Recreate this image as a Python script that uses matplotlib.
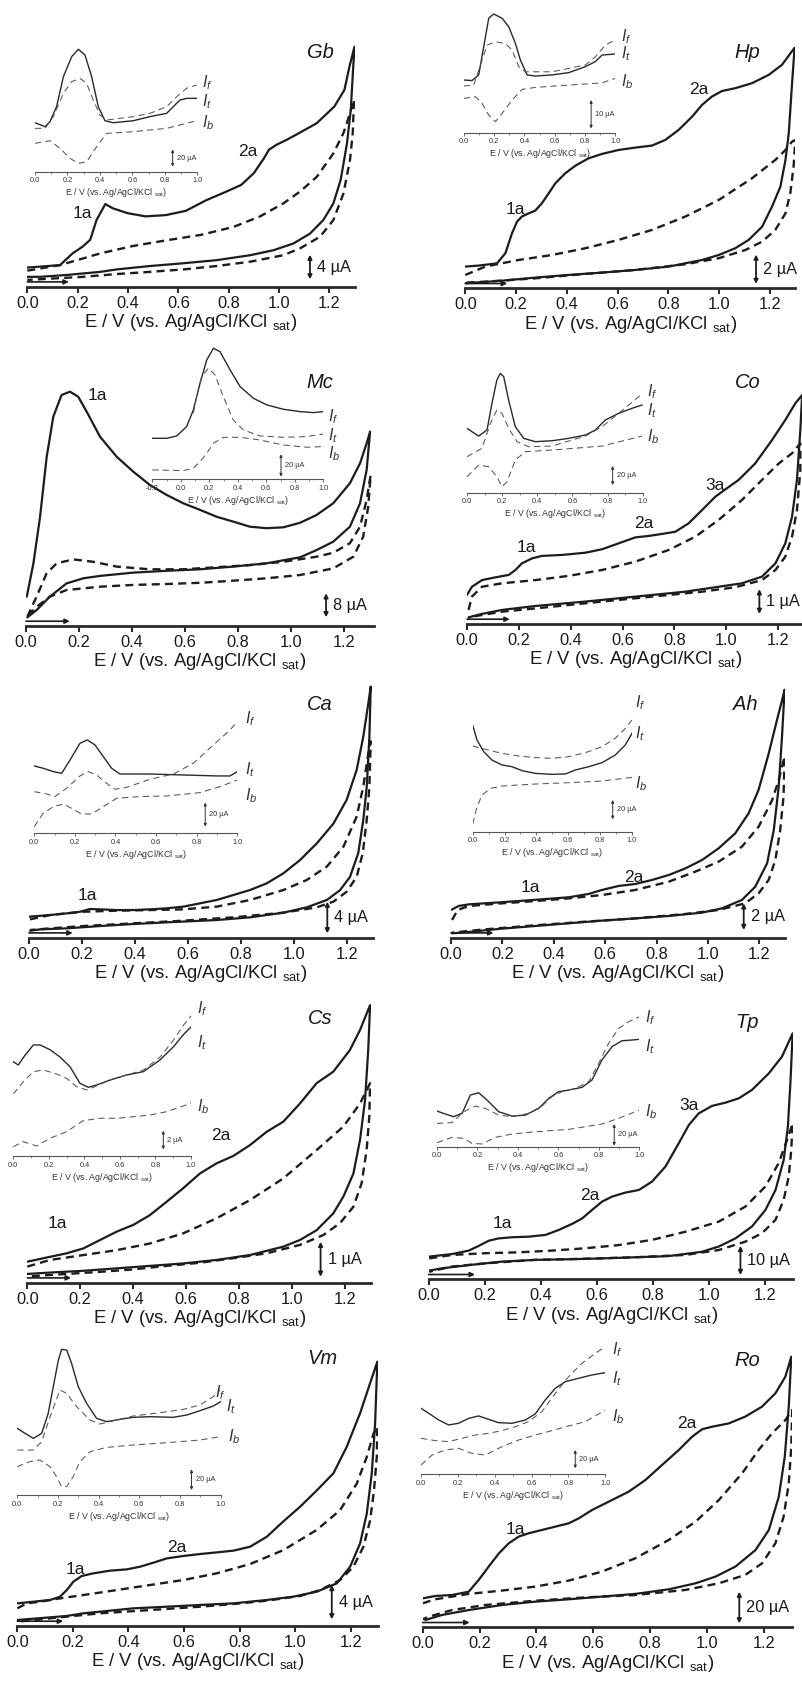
import matplotlib
matplotlib.use('Agg')
import matplotlib.pyplot as plt
from matplotlib.ticker import MultipleLocator, FormatStrFormatter
import numpy as np

plt.rcParams['font.family'] = ['Liberation Sans', 'DejaVu Sans']
plt.rcParams['mathtext.fontset'] = 'custom'
plt.rcParams['mathtext.rm'] = 'Liberation Sans'
plt.rcParams['mathtext.it'] = 'Liberation Sans:italic'
plt.rcParams['mathtext.bf'] = 'Liberation Sans:bold'

# ---------------- DATA (E in V, I in uA, offset arbitrary) ----------------
# Gb
gb_sf = [(0,3.1),(0.13,3.5),(0.18,5.4),(0.22,6.5),(0.25,7.6),(0.275,10.8),(0.31,13.4),(0.34,12.7),(0.4,11.9),(0.47,11.4),(0.55,11.6),(0.63,12.3),(0.71,14.0),(0.79,15.4),(0.85,16.5),(0.9,18.4),(0.94,20.8),(0.96,22.2),(0.99,23.0),(1.03,23.8),(1.08,24.9),(1.15,26.5),(1.22,29.2),(1.26,31.9),(1.28,35.7),(1.3,38.9)]
gb_sb = [(1.3,38.9),(1.295,35.7),(1.285,28.6),(1.27,23.2),(1.245,17.3),(1.216,13.5),(1.176,10.8),(1.123,8.6),(1.057,7.0),(0.977,5.9),(0.885,5.1),(0.752,4.3),(0.62,3.8),(0.487,3.35),(0.355,2.8),(0.289,2.4),(0.156,1.9),(0.05,1.6),(0,1.6)]
gb_df = [(0,2.6),(0.13,3.5),(0.29,5.4),(0.42,6.6),(0.55,7.5),(0.69,8.4),(0.82,9.7),(0.925,11.4),(1.017,13.5),(1.083,15.4),(1.15,17.8),(1.216,21.6),(1.256,24.9),(1.282,28.1),(1.298,30.3)]
gb_db = [(1.298,30.3),(1.293,24.9),(1.282,20.5),(1.256,15.1),(1.216,10.8),(1.163,8.1),(1.083,6.2),(1.017,5.1),(0.885,4.05),(0.752,3.35),(0.62,2.8),(0.487,2.4),(0.355,2.05),(0.222,1.6),(0.09,1.3),(0,1.1)]
gb_it = [(0,56.5),(0.062,51.9),(0.092,57.7),(0.133,75),(0.175,109.6),(0.226,132.7),(0.267,141.2),(0.308,134.6),(0.349,109.6),(0.39,75),(0.431,58.8),(0.483,56.5),(0.606,58.8),(0.708,63.5),(0.811,67.3),(0.852,75),(0.893,82.7),(0.934,84.6),(0.996,84.6)]
gb_if = [(0,50),(0.062,50),(0.113,63.5),(0.175,90.4),(0.226,103.8),(0.277,107.7),(0.318,101.9),(0.359,82.7),(0.4,65.4),(0.441,59.6),(0.606,63.5),(0.708,67.3),(0.811,75),(0.873,86.5),(0.934,96.2),(0.996,100)]
gb_ib = [(0,32.7),(0.092,35.8),(0.154,26.9),(0.216,15.4),(0.267,9.6),(0.318,11.5),(0.38,28.8),(0.441,44.2),(0.606,46.2),(0.811,50),(0.996,58.8)]

# Hp
hp_sf = [(0,1.48),(0.053,1.55),(0.125,1.7),(0.158,2.39),(0.184,3.75),(0.204,4.55),(0.223,4.89),(0.25,5.11),(0.276,5.3),(0.302,5.8),(0.329,6.48),(0.355,7.16),(0.394,7.84),(0.434,8.36),(0.486,8.86),(0.539,9.16),(0.604,9.43),(0.67,9.59),(0.736,9.73),(0.788,10.11),(0.841,10.8),(0.894,11.7),(0.933,12.5),(0.972,13.07),(1.012,13.45),(1.064,13.64),(1.13,13.98),(1.196,14.55),(1.248,15.23),(1.298,16.4)]
hp_sb = [(1.298,16.4),(1.288,13.98),(1.275,10.57),(1.262,8.75),(1.242,6.93),(1.209,5.57),(1.17,4.2),(1.117,3.3),(1.064,2.73),(0.999,2.27),(0.933,1.93),(0.802,1.48),(0.67,1.25),(0.539,1.07),(0.407,0.91),(0.276,0.73),(0.145,0.52),(0.039,0.39),(0,0.34)]
hp_df = [(0,0.91),(0.079,1.48),(0.21,1.93),(0.342,2.27),(0.473,2.73),(0.604,3.3),(0.736,3.98),(0.867,4.89),(0.999,6.02),(1.13,7.5),(1.222,8.75),(1.262,9.43),(1.288,10.0),(1.301,10.11)]
hp_db = [(1.301,10.11),(1.294,8.3),(1.281,6.48),(1.262,5.11),(1.222,3.98),(1.17,3.18),(1.104,2.61),(0.999,2.05),(0.867,1.64),(0.67,1.25),(0.473,0.98),(0.276,0.68),(0.079,0.45),(0,0.39)]
hp_it = [(0,18.6),(0.055,18.4),(0.099,20.4),(0.132,30.4),(0.165,40.4),(0.198,41.9),(0.253,40.4),(0.297,37.4),(0.341,31.5),(0.374,25.6),(0.418,20.4),(0.473,20.0),(0.582,20.4),(0.692,21.2),(0.802,23.3),(0.868,25.1),(0.912,27.4),(1.0,27.8)]
hp_if = [(0,16.5),(0.066,16.8),(0.121,25.6),(0.154,30.9),(0.209,32.1),(0.275,31.5),(0.319,29.2),(0.363,23.3),(0.407,21.5),(0.582,21.5),(0.802,23.9),(0.868,26.8),(0.934,30.9),(1.0,32.9)]
hp_ib = [(0,12.1),(0.077,12.7),(0.121,10.4),(0.165,6.2),(0.209,3.9),(0.253,6.8),(0.319,11.5),(0.385,15.3),(0.473,16.0),(0.692,16.8),(0.912,17.6),(1.0,19.2)]

# Mc
mc_sf = [(0.003,9.8),(0.028,20.9),(0.053,36.4),(0.078,56.4),(0.103,69.8),(0.134,77),(0.166,78.1),(0.197,76.4),(0.229,71.4),(0.279,63.1),(0.342,56.4),(0.405,51.4),(0.467,47),(0.53,43.7),(0.593,40.9),(0.656,38.7),(0.719,36.4),(0.781,34.8),(0.844,33.1),(0.907,32.6),(0.97,32.9),(1.033,34.4),(1.095,37),(1.158,40.9),(1.221,47.6),(1.259,54.2),(1.284,60.9),(1.297,64.8)]
mc_sb = [(1.297,64.8),(1.284,52),(1.259,40.9),(1.221,33.1),(1.158,28.1),(1.095,25.3),(1.033,22.9),(0.907,20.9),(0.781,19.8),(0.656,18.9),(0.53,18.4),(0.405,17.8),(0.279,16.7),(0.216,15.9),(0.153,14.2),(0.09,9.8),(0.04,5.3),(0.005,2.9)]
mc_df = [(0.005,3.1),(0.04,9.8),(0.078,17.6),(0.116,20.9),(0.178,22.2),(0.254,21.4),(0.342,19.8),(0.467,18.9),(0.593,18.9),(0.719,19.6),(0.844,20.3),(0.97,21.4),(1.095,23.1),(1.158,24.4),(1.221,27.6),(1.259,33.1),(1.284,42),(1.299,50.3)]
mc_db = [(1.299,50.3),(1.29,39.8),(1.271,29.8),(1.234,23.1),(1.158,19.2),(1.033,17),(0.907,15.9),(0.781,15.1),(0.656,14.4),(0.53,14),(0.405,13.7),(0.279,13.1),(0.153,12),(0.09,9.8),(0.04,6.4),(0.005,3.1)]
mc_it = [(-0.2,36.7),(-0.099,36.7),(-0.029,38.8),(0.041,47.2),(0.088,62.1),(0.135,86),(0.182,106.9),(0.229,117.3),(0.275,114.3),(0.346,97.9),(0.416,83),(0.51,72.5),(0.603,66.6),(0.72,62.7),(0.837,60.6),(0.93,59.7),(1.0,60.6)]
mc_if = [(0.088,59.1),(0.111,74),(0.146,91.9),(0.193,99.4),(0.24,93.4),(0.298,74),(0.368,53.1),(0.439,44.2),(0.556,38.8),(0.719,37.6),(0.883,38.2),(1.0,40.6)]
mc_ib = [(-0.2,8.4),(0.018,7.8),(0.088,9.9),(0.135,15.8),(0.182,23.3),(0.229,32.2),(0.298,37.6),(0.415,37.6),(0.556,35.2),(0.719,30.7),(0.883,28.7),(1.0,29.3)]

# Co
co_sf = [(0,1.18),(0.019,1.51),(0.058,1.78),(0.109,1.89),(0.161,1.99),(0.187,2.19),(0.212,2.46),(0.251,2.66),(0.289,2.76),(0.367,2.8),(0.457,2.89),(0.521,3.03),(0.585,3.27),(0.649,3.51),(0.701,3.57),(0.752,3.65),(0.804,3.74),(0.855,4.08),(0.907,4.62),(0.958,5.16),(0.997,5.46),(1.048,5.84),(1.112,6.51),(1.177,7.46),(1.228,8.27),(1.267,8.95),(1.293,9.28)]
co_sb = [(1.293,9.28),(1.286,7.86),(1.273,5.84),(1.254,4.35),(1.228,3.27),(1.19,2.46),(1.138,1.92),(1.061,1.65),(0.971,1.51),(0.842,1.31),(0.65,1.11),(0.457,0.91),(0.264,0.73),(0.135,0.57),(0.058,0.41),(0.006,0.27)]
co_df = [(0.006,0.57),(0.019,1.11),(0.058,1.51),(0.135,1.65),(0.264,1.78),(0.392,1.95),(0.521,2.19),(0.65,2.53),(0.778,3.0),(0.881,3.54),(0.971,4.22),(1.061,5.03),(1.138,5.84),(1.203,6.51),(1.254,6.92),(1.286,7.32)]
co_db = [(1.286,7.32),(1.286,6.24),(1.273,4.62),(1.254,3.54),(1.228,2.73),(1.19,2.19),(1.138,1.78),(1.035,1.49),(0.907,1.31),(0.714,1.11),(0.521,0.91),(0.328,0.7),(0.135,0.5),(0.032,0.32),(0.006,0.23)]
co_it = [(0,67.7),(0.066,59.6),(0.114,66),(0.142,94),(0.17,118.6),(0.19,125.6),(0.209,122.1),(0.237,97.5),(0.275,69.5),(0.323,57.2),(0.389,53.7),(0.484,54.7),(0.579,57.2),(0.674,60.7),(0.731,66),(0.787,76.5),(0.863,83.5),(0.939,88.8),(0.996,92.3)]
co_if = [(0,37.9),(0.085,46.7),(0.133,73),(0.17,87),(0.199,83.5),(0.237,67.7),(0.285,53.7),(0.351,48.4),(0.484,49.1),(0.674,59.6),(0.769,69.5),(0.863,83.5),(0.996,103.9)]
co_ib = [(0,16.8),(0.066,29.1),(0.123,27.4),(0.17,16.8),(0.199,6.3),(0.228,11.6),(0.275,34.4),(0.332,43.2),(0.484,44.9),(0.769,49.1),(0.996,59.6)]

# Ca
ca_sf = [(0,2.65),(0.079,2.86),(0.142,3.07),(0.193,3.28),(0.23,3.62),(0.268,3.58),(0.331,3.49),(0.394,3.49),(0.457,3.58),(0.52,3.71),(0.583,3.92),(0.646,4.34),(0.709,4.76),(0.772,5.39),(0.835,6.02),(0.898,6.86),(0.961,8.13),(1.024,9.81),(1.087,11.9),(1.15,14.4),(1.2,17.4),(1.238,21.2),(1.263,25.4),(1.282,29.6),(1.291,31.7)]
ca_sb = [(1.291,31.7),(1.286,25.4),(1.276,19.1),(1.263,14.9),(1.244,10.7),(1.213,7.7),(1.175,6.0),(1.125,4.76),(1.049,3.83),(0.961,3.16),(0.835,2.57),(0.709,2.23),(0.52,1.94),(0.394,1.73),(0.268,1.47),(0.142,1.18),(0.042,1.05),(0.004,0.88)]
ca_df = [(0.004,2.32),(0.079,2.86),(0.205,3.28),(0.331,3.41),(0.457,3.49),(0.583,3.58),(0.709,3.92),(0.835,4.76),(0.961,6.02),(1.049,7.28),(1.125,8.97),(1.188,11.5),(1.238,15.3),(1.263,19.1),(1.282,23.3),(1.291,24.8)]
ca_db = [(1.291,24.8),(1.286,19.1),(1.276,14.9),(1.261,10.7),(1.238,7.7),(1.2,5.8),(1.15,4.55),(1.087,3.83),(0.961,3.16),(0.772,2.57),(0.583,2.15),(0.394,1.81),(0.205,1.47),(0.079,1.18),(0.004,0.97)]
ca_it = [(0,56.1),(0.044,54.2),(0.094,51.4),(0.135,50),(0.176,61.1),(0.225,75),(0.261,77.8),(0.299,73.6),(0.34,63.9),(0.381,54.2),(0.422,49.4),(0.57,49.4),(0.734,48.6),(0.898,47.8),(0.964,47.8),(1.0,51.4)]
ca_if = [(0,34.7),(0.061,32.8),(0.102,30.6),(0.159,37.5),(0.225,47.8),(0.266,51.4),(0.307,48.6),(0.356,41.7),(0.397,36.7),(0.455,38.3),(0.57,45),(0.685,49.4),(0.783,58.3),(0.882,73.6),(0.964,86.1),(1.0,93.1)]
ca_ib = [(0,5.6),(0.044,16.7),(0.094,22.2),(0.143,24.4),(0.184,20.8),(0.233,16.1),(0.282,16.1),(0.34,22.2),(0.406,29.2),(0.52,30.6),(0.652,31.1),(0.816,33.9),(0.915,38.9),(1.0,44.4)]

# Ah
ah_sf = [(0,2.08),(0.03,2.38),(0.069,2.5),(0.172,2.63),(0.263,2.75),(0.354,2.88),(0.457,3.03),(0.535,3.28),(0.587,3.58),(0.652,3.88),(0.717,4.03),(0.782,4.33),(0.847,4.7),(0.912,5.2),(0.977,5.83),(1.041,6.7),(1.106,7.83),(1.158,9.33),(1.197,11.1),(1.236,13.8),(1.268,16.3),(1.288,17.8),(1.298,18.6)]
ah_sb = [(1.298,18.6),(1.288,15.1),(1.275,11.3),(1.256,8.08),(1.23,5.58),(1.184,3.83),(1.132,2.83),(1.054,2.2),(0.977,1.88),(0.847,1.63),(0.717,1.45),(0.587,1.28),(0.457,1.08),(0.328,0.88),(0.198,0.68),(0.069,0.43),(0.004,0.33)]
ah_df = [(0.004,1.33),(0.026,2.08),(0.069,2.38),(0.198,2.58),(0.328,2.75),(0.457,2.95),(0.587,3.2),(0.717,3.58),(0.847,4.2),(0.95,4.95),(1.041,5.7),(1.132,6.83),(1.197,8.33),(1.249,10.3),(1.275,11.8),(1.298,13.6)]
ah_db = [(1.298,13.6),(1.294,10.6),(1.281,8.08),(1.262,5.83),(1.236,4.33),(1.197,3.33),(1.145,2.58),(1.041,2.08),(0.912,1.78),(0.717,1.45),(0.522,1.2),(0.328,0.93),(0.134,0.63),(0.004,0.38)]
ah_it = [(0,110.3),(0.027,94.8),(0.069,82.8),(0.121,74.1),(0.184,69),(0.247,67.2),(0.31,63.1),(0.393,60.3),(0.498,59.3),(0.582,59.7),(0.644,63.8),(0.728,67.2),(0.812,71.4),(0.895,79.3),(0.958,89.7),(1.0,101.7)]
ah_if = [(0,88.6),(0.079,85.2),(0.184,81),(0.289,78.3),(0.393,76.6),(0.498,75.9),(0.603,77.6),(0.707,81.7),(0.812,87.9),(0.895,96.6),(0.958,106.9),(1.0,115.5)]
ah_ib = [(0,7.9),(0.027,25.9),(0.059,37.9),(0.111,44.8),(0.184,47.2),(0.289,48.3),(0.393,49.3),(0.603,50.7),(0.812,52.4),(1.0,56.2)]

# Cs
cs_sf = [(0,0.6),(0.086,0.74),(0.149,0.84),(0.212,0.98),(0.275,1.22),(0.338,1.46),(0.4,1.65),(0.463,1.93),(0.526,2.31),(0.589,2.7),(0.652,3.12),(0.715,3.41),(0.778,3.62),(0.841,3.93),(0.904,4.31),(0.967,4.6),(1.03,5.12),(1.093,5.7),(1.156,6.03),(1.219,6.65),(1.257,7.22),(1.295,7.93)]
cs_sb = [(1.295,7.93),(1.288,6.65),(1.276,5.22),(1.257,4.08),(1.232,3.12),(1.194,2.46),(1.156,1.98),(1.093,1.5),(1.03,1.22),(0.967,1.03),(0.841,0.79),(0.715,0.65),(0.589,0.55),(0.463,0.48),(0.338,0.41),(0.212,0.34),(0.086,0.29),(0,0.25)]
cs_df = [(0,0.46),(0.086,0.65),(0.212,0.79),(0.338,0.93),(0.463,1.12),(0.589,1.41),(0.715,1.84),(0.841,2.36),(0.967,2.98),(1.093,3.79),(1.194,4.46),(1.257,5.12),(1.295,5.7)]
cs_db = [(1.295,5.7),(1.292,4.74),(1.282,3.79),(1.263,2.84),(1.232,2.17),(1.181,1.7),(1.118,1.36),(1.03,1.08),(0.904,0.84),(0.778,0.7),(0.652,0.57),(0.526,0.48),(0.4,0.38),(0.275,0.31),(0.149,0.25),(0.023,0.19),(0,0.17)]
cs_it = [(0,10.1),(0.028,9.75),(0.066,10.8),(0.113,11.9),(0.15,11.9),(0.206,11.4),(0.263,10.6),(0.319,9.57),(0.375,7.79),(0.422,7.36),(0.469,7.61),(0.544,8.14),(0.638,8.68),(0.732,9.04),(0.826,10.3),(0.901,11.7),(0.957,13.0),(1.004,13.9)]
cs_if = [(0,6.64),(0.056,7.96),(0.113,9.04),(0.169,9.21),(0.244,8.79),(0.3,8.32),(0.356,7.43),(0.413,7.07),(0.469,7.5),(0.544,8.14),(0.638,8.68),(0.732,9.21),(0.826,10.6),(0.901,12.4),(0.957,14.0),(1.004,15.1)]
cs_ib = [(0,1.0),(0.056,1.54),(0.131,1.07),(0.206,1.89),(0.3,2.61),(0.394,3.79),(0.488,4.04),(0.582,4.04),(0.675,4.21),(0.769,4.39),(0.863,4.75),(0.957,5.36),(1.004,5.71)]

# Tp
tp_sf = [(0,7.8),(0.083,8.7),(0.143,9.9),(0.178,11.5),(0.214,13.3),(0.249,14.1),(0.297,14.5),(0.356,14.7),(0.416,15.3),(0.463,17),(0.511,19.1),(0.547,21),(0.582,23.9),(0.618,26.8),(0.653,28.5),(0.701,29.9),(0.749,30.8),(0.796,33.7),(0.844,38.9),(0.891,46.9),(0.927,53.2),(0.962,57.2),(1.01,59.8),(1.057,60.9),(1.105,62.4),(1.152,65.3),(1.212,71),(1.259,76.8),(1.297,84.8)]
tp_sb = [(1.297,84.8),(1.289,67.6),(1.28,52.6),(1.265,41.1),(1.236,30.8),(1.2,23.9),(1.152,18.2),(1.093,14.1),(1.034,11.3),(0.974,9.5),(0.855,8.0),(0.737,7.6),(0.618,7.2),(0.499,6.9),(0.38,6.7),(0.261,6.1),(0.143,4.9),(0.048,3.8),(0.002,3.0)]
tp_df = [(0.002,7.2),(0.083,8.4),(0.202,9),(0.321,9.3),(0.44,9.9),(0.558,10.7),(0.677,11.8),(0.796,13.6),(0.915,16.4),(1.034,19.9),(1.129,25.1),(1.2,32),(1.247,40),(1.277,48),(1.297,53.8)]
tp_db = [(1.297,53.8),(1.292,44.6),(1.283,35.4),(1.265,27.4),(1.236,20.5),(1.188,15.9),(1.129,13),(1.034,10.1),(0.915,8.4),(0.737,7.6),(0.558,7.1),(0.38,6.7),(0.202,5.5),(0.083,4.4),(0.002,2.6)]
tp_it = [(0,32.9),(0.041,30.2),(0.082,27.7),(0.124,30.8),(0.165,47.7),(0.206,49.8),(0.247,43.1),(0.305,32.3),(0.371,28.3),(0.437,29.2),(0.503,35.4),(0.552,44.6),(0.601,50.8),(0.651,52.3),(0.717,54.8),(0.766,61.5),(0.815,80),(0.865,92.3),(0.914,97.8),(0.964,98.5),(0.997,99.1)]
tp_if = [(0,21.5),(0.074,22.2),(0.132,32.3),(0.189,37.5),(0.239,35.4),(0.305,29.2),(0.371,27.7),(0.453,30.8),(0.519,37.5),(0.568,46.2),(0.618,50.8),(0.684,53.8),(0.75,60),(0.799,76.9),(0.848,95.4),(0.898,109.2),(0.947,115.4),(1.0,120)]
tp_ib = [(0,3.7),(0.074,8.6),(0.132,7.7),(0.173,3.1),(0.222,2.5),(0.288,8.6),(0.371,11.7),(0.486,13.8),(0.651,16),(0.815,20.9),(0.898,26.2),(1.0,33.8)]

# Vm
vm_sf = [(0,2.64),(0.058,2.83),(0.118,3.03),(0.154,3.42),(0.178,4.19),(0.202,5.17),(0.232,5.83),(0.274,6.14),(0.334,6.45),(0.394,6.6),(0.442,6.91),(0.49,7.38),(0.538,7.88),(0.598,8.16),(0.658,8.39),(0.718,8.58),(0.778,8.78),(0.838,9.24),(0.898,10.4),(0.958,12.2),(1.018,13.9),(1.078,15.8),(1.138,17.8),(1.186,20.9),(1.234,24.8),(1.27,28.3),(1.296,30.8)]
vm_sb = [(1.296,30.8),(1.288,23.6),(1.276,17.8),(1.258,13.1),(1.234,9.63),(1.198,6.91),(1.15,4.97),(1.078,4.0),(0.994,3.42),(0.898,3.03),(0.778,2.64),(0.658,2.45),(0.538,2.25),(0.418,2.06),(0.298,1.67),(0.238,1.48),(0.178,1.17),(0.118,1.01),(0.058,0.85),(0,0.7)]
vm_df = [(0,2.06),(0.034,2.64),(0.082,2.83),(0.154,3.22),(0.238,3.61),(0.358,4.19),(0.478,4.78),(0.598,5.36),(0.718,6.14),(0.838,7.22),(0.958,8.85),(1.078,11.2),(1.162,13.5),(1.222,16.6),(1.258,19.7),(1.282,22.4),(1.296,23.2)]
vm_db = [(1.296,23.2),(1.294,19.7),(1.284,15.8),(1.27,12.3),(1.246,9.24),(1.21,6.91),(1.162,5.36),(1.09,4.19),(1.018,3.5),(0.898,2.95),(0.778,2.56),(0.658,2.25),(0.478,1.86),(0.298,1.48),(0.118,0.89),(0,0.5)]
vm_it = [(0,64.5),(0.038,59.7),(0.079,54.8),(0.12,59.7),(0.152,79),(0.177,104.8),(0.202,130.6),(0.218,141),(0.243,140.3),(0.267,127.4),(0.3,104.8),(0.341,88.7),(0.39,74.2),(0.439,71),(0.505,73.2),(0.57,75.2),(0.652,75.8),(0.767,75.2),(0.833,77.4),(0.898,81.6),(0.964,86.1),(1.0,90.3)]
vm_if = [(0,43.5),(0.079,43.5),(0.12,51.6),(0.161,75.8),(0.21,101.6),(0.243,98.4),(0.292,85.5),(0.357,72.6),(0.407,68.7),(0.489,72.6),(0.57,76.5),(0.652,78.4),(0.734,80.6),(0.816,82.9),(0.898,87.1),(0.964,95.2),(0.997,101.6)]
vm_ib = [(0,27.4),(0.062,32.3),(0.111,33.9),(0.161,27.4),(0.193,17.7),(0.218,8.1),(0.243,8.1),(0.275,17.7),(0.308,32.3),(0.357,41.9),(0.439,46.1),(0.57,48.4),(0.734,50.6),(0.898,53.2),(1.0,56.5)]

# Ro
ro_sf = [(0,18.3),(0.045,19.8),(0.103,20.4),(0.162,22.5),(0.197,29.9),(0.232,38.3),(0.268,46.7),(0.303,53.1),(0.338,57.3),(0.373,59.4),(0.42,61.5),(0.467,63.6),(0.514,65.7),(0.549,68.8),(0.596,74.1),(0.655,79.4),(0.725,85.7),(0.784,93.1),(0.842,102.5),(0.901,112),(0.948,120.4),(0.983,125.1),(1.018,126.7),(1.077,128.8),(1.135,133.1),(1.194,139.4),(1.241,147.8),(1.276,158.3),(1.297,170.9)]
ro_sb = [(1.297,170.9),(1.288,139.4),(1.274,107.8),(1.253,82.5),(1.218,61.5),(1.171,48.8),(1.1,38.3),(1.03,32),(0.96,27.8),(0.866,24),(0.748,21.1),(0.631,19.4),(0.514,17.7),(0.396,16.2),(0.279,14.1),(0.162,10.9),(0.068,7.8),(0.009,4.6)]
ro_df = [(0,15.2),(0.045,17.7),(0.162,21.1),(0.279,23.2),(0.396,25.7),(0.514,29.5),(0.631,35.2),(0.748,43.6),(0.866,55.2),(0.96,66.7),(1.042,80.4),(1.124,97.3),(1.182,112),(1.229,122.5),(1.276,130.9),(1.3,137.3)]
ro_db = [(1.3,137.3),(1.297,114.1),(1.288,90.9),(1.27,69.9),(1.241,53.1),(1.194,40.4),(1.135,33.1),(1.042,27.8),(0.924,23.6),(0.748,20.4),(0.573,18.9),(0.396,16.8),(0.221,14.1),(0.103,10.9),(0.021,6.7),(0,5.1)]
ro_it = [(0,71.6),(0.042,66.2),(0.096,58.9),(0.15,53.5),(0.204,55.3),(0.259,60.7),(0.313,63.3),(0.367,59.6),(0.421,56),(0.494,55.3),(0.566,58.9),(0.62,65.5),(0.674,80.7),(0.729,93.5),(0.783,100.7),(0.855,104.4),(0.928,108),(1.0,110.5)]
ro_if = [(0,38.9),(0.078,36.4),(0.15,35.3),(0.222,38.9),(0.295,42.5),(0.367,44.4),(0.439,47.3),(0.512,51.6),(0.584,57.1),(0.656,68),(0.729,88),(0.801,106.2),(0.873,120.7),(0.946,131.6),(1.0,138.9)]
ro_ib = [(0,9.8),(0.06,20.7),(0.132,26.2),(0.204,28),(0.277,22.5),(0.349,20.7),(0.439,29.8),(0.53,37.1),(0.62,42.5),(0.711,47.3),(0.801,52.4),(0.892,57.1),(1.0,69.8)]

# scale bars (uA)
bar_main = [4, 2, 8, 1, 4, 2, 1, 10, 4, 20]
bar_inset = [20, 10, 20, 20, 20, 20, 2, 20, 20, 20]
names = ['Gb', 'Hp', 'Mc', 'Co', 'Ca', 'Ah', 'Cs', 'Tp', 'Vm', 'Ro']
ticks_main = [0.0, 0.2, 0.4, 0.6, 0.8, 1.0, 1.2]

# ---------------- LAYOUT ----------------
W, H = 803, 1684
fig = plt.figure(figsize=(W / 100, H / 100), dpi=100)
INK = '#1c1c1c'
XLAB = r'E / V (vs. Ag/AgCl/KCl ${}_{\mathrm{sat}}$)'


def px_axes(left, right, bottom, top):
    return fig.add_axes([left / W, 1 - bottom / H, (right - left) / W, (bottom - top) / H])


def arr(pts):
    a = np.array(pts, dtype=float)
    return a[:, 0], a[:, 1]


def main_panel(xa, s, ya, ppu, emax, sf, sb, df, db, bar, bar_pos):
    ax = px_axes(xa, xa + s * emax, ya, ya - 290)
    ax.set_xlim(0, emax)
    ax.set_ylim(0, 290 / ppu)
    ax.patch.set_visible(False)
    for sp in ('left', 'right', 'top'):
        ax.spines[sp].set_visible(False)
    ax.spines['bottom'].set_linewidth(2.0)
    ax.spines['bottom'].set_color('#2a2a2a')
    ax.set_yticks([])
    ax.set_xticks(ticks_main)
    ax.xaxis.set_major_formatter(FormatStrFormatter('%.1f'))
    ax.tick_params(axis='x', direction='out', length=4, width=1.5, colors='#2a2a2a',
                   labelsize=11.8, pad=2.5, labelcolor='#1a1a1a')
    ax.set_xlabel(XLAB, fontsize=13.3, labelpad=1.0, color='#1a1a1a')
    x, y = arr(sf + sb[1:])
    ax.plot(x, y, color=INK, lw=1.6, solid_joinstyle='round', solid_capstyle='round')
    x, y = arr(df + db[1:])
    ax.plot(x, y, color=INK, lw=1.7, ls=(0, (3.4, 2.2)))
    be, bi = bar_pos
    ax.annotate('', xy=(be, bi + bar), xytext=(be, bi),
                arrowprops=dict(arrowstyle='<|-|>', lw=1.3, color=INK, mutation_scale=6,
                                shrinkA=0, shrinkB=0))
    ax.annotate(f'{bar} µA', xy=(be, bi + bar / 2), xytext=(5, 0), textcoords='offset points',
                ha='left', va='center', fontsize=11.8, color='#1a1a1a')
    ya_arrow = 4.8 / ppu
    ax.annotate('', xy=(0.165, ya_arrow), xytext=(0.0, ya_arrow),
                arrowprops=dict(arrowstyle='-|>', lw=1.2, color=INK, mutation_scale=7,
                                shrinkA=0, shrinkB=0))
    return ax


def inset_panel(xa, s, emin, ya, ppu, it, if_, ib, bar, bar_pos, labs):
    ax = px_axes(xa + s * emin, xa + s * 1.0, ya, ya - 160)
    ax.set_xlim(emin, 1.0)
    ax.set_ylim(0, 160 / ppu)
    ax.patch.set_visible(False)
    for sp in ('left', 'right', 'top'):
        ax.spines[sp].set_visible(False)
    ax.spines['bottom'].set_linewidth(0.8)
    ax.spines['bottom'].set_color('#555555')
    ax.set_yticks([])
    ax.xaxis.set_major_locator(MultipleLocator(0.2))
    ax.xaxis.set_minor_locator(MultipleLocator(0.1))
    ax.xaxis.set_major_formatter(FormatStrFormatter('%.1f'))
    ax.tick_params(axis='x', which='major', direction='out', length=2.5, width=0.6,
                   colors='#555555', labelsize=5.3, pad=1.5, labelcolor='#333333')
    ax.tick_params(axis='x', which='minor', direction='out', length=1.6, width=0.5,
                   colors='#555555')
    ax.set_xlabel(XLAB, fontsize=6.3, labelpad=1.5, color='#333333')
    x, y = arr(it)
    ax.plot(x, y, color='#2a2a2a', lw=1.0)
    x, y = arr(if_)
    ax.plot(x, y, color='#555555', lw=0.75, ls=(0, (6, 4)))
    x, y = arr(ib)
    ax.plot(x, y, color='#555555', lw=0.75, ls=(0, (6, 4)))
    be, bi = bar_pos
    ax.annotate('', xy=(be, bi + bar), xytext=(be, bi),
                arrowprops=dict(arrowstyle='<|-|>', lw=0.7, color='#333333', mutation_scale=4,
                                shrinkA=0, shrinkB=0))
    ax.annotate(f'{bar} µA', xy=(be, bi + bar / 2), xytext=(3, 0), textcoords='offset points',
                ha='left', va='center', fontsize=5.3, color='#333333')
    for txt, le, li in labs:
        ax.text(le, li, txt, fontsize=11.5, ha='left', va='baseline', color='#333333')
    return ax


def label(px, py, s, italic=False, size=12.5):
    fig.text(px / W, 1 - py / H, s, ha='center', va='center',
             fontsize=14.5 if italic else size,
             style='italic' if italic else 'normal', color='#1a1a1a')


LF, LT, LB = r'$I_f$', r'$I_t$', r'$I_b$'

# --- Gb ---
main_panel(27.3, 251.7, 286.7, 6.17, 1.3, gb_sf, gb_sb, gb_df, gb_db, bar_main[0], (1.123, 1.19))
inset_panel(35.0, 162.3, 0.0, 171.7, 0.867, gb_it, gb_if, gb_ib, bar_inset[0], (0.848, 5.8),
            [(LF, 1.03, 97.3), (LT, 1.03, 75.8), (LB, 1.03, 51.2)])
label(320, 53, names[0], True); label(248, 152, '2a'); label(82, 213, '1a')

# --- Hp ---
main_panel(465.3, 253.7, 288.3, 14.67, 1.3, hp_sf, hp_sb, hp_df, hp_db, bar_main[1], (1.146, 0.3))
inset_panel(463.7, 151.7, 0.0, 132.7, 2.833, hp_it, hp_if, hp_ib, bar_inset[1], (0.84, 1.5),
            [(LF, 1.04, 32.1), (LT, 1.04, 26.2), (LB, 1.04, 16.5)])
label(747, 53, names[1], True); label(699, 89, '2a'); label(515, 209, '1a')

# --- Mc ---
main_panel(26.0, 265.3, 626.0, 3.0, 1.31, mc_sf, mc_sb, mc_df, mc_db, bar_main[2], (1.131, 2.9))
inset_panel(180.8, 142.5, -0.2, 479.3, 1.117, mc_it, mc_if, mc_ib, bar_inset[2], (0.703, 2.4),
            [(LF, 1.035, 51.6), (LT, 1.035, 35.2), (LB, 1.035, 18.8)])
label(320, 382, names[2], True); label(97, 395, '1a')

# --- Co ---
main_panel(467.0, 259.2, 624.0, 24.67, 1.3, co_sf, co_sb, co_df, co_db, bar_main[3], (1.128, 0.41))
inset_panel(467.0, 175.7, 0.0, 492.7, 0.95, co_it, co_if, co_ib, bar_inset[3], (0.829, 8.1),
            [(LF, 1.025, 101.8), (LT, 1.025, 81.8), (LB, 1.025, 53.7)])
label(748, 382, names[3], True); label(715, 485, '3a'); label(644, 523, '2a'); label(526, 547, '1a')

# --- Ca ---
main_panel(29.0, 264.7, 937.7, 7.92, 1.3, ca_sf, ca_sb, ca_df, ca_db, bar_main[4], (1.127, 0.55))
inset_panel(34.3, 203.0, 0.0, 833.3, 1.2, ca_it, ca_if, ca_ib, bar_inset[4], (0.842, 5.6),
            [(LF, 1.038, 91.7), (LT, 1.038, 49.4), (LB, 1.038, 27.8)])
label(320, 705, names[4], True); label(87, 896, '1a')

# --- Ah ---
main_panel(451.0, 257.0, 937.7, 13.33, 1.3, ah_sf, ah_sb, ah_df, ah_db, bar_main[5], (1.139, 0.58))
inset_panel(472.7, 159.3, 0.0, 831.7, 0.967, ah_it, ah_if, ah_ib, bar_inset[5], (0.879, 12.8),
            [(LF, 1.021, 128.6), (LT, 1.021, 96.6), (LB, 1.021, 44.8)])
label(745, 705, names[5], True); label(634, 877, '2a'); label(530, 888, '1a')

# --- Cs ---
main_panel(27.3, 264.7, 1282.7, 35.0, 1.3, cs_sf, cs_sb, cs_df, cs_db, bar_main[6], (1.108, 0.17))
inset_panel(13.3, 177.7, 0.0, 1156.0, 9.333, cs_it, cs_if, cs_ib, bar_inset[6], (0.844, 0.71),
            [(LF, 1.032, 15.3), (LT, 1.032, 11.7), (LB, 1.032, 4.75)])
label(320, 1018, names[6], True); label(221, 1135, '2a'); label(57, 1223, '1a')

# --- Tp ---
main_panel(428.7, 280.6, 1279.3, 2.9, 1.3, tp_sf, tp_sb, tp_df, tp_db, bar_main[7], (1.111, 1.5))
inset_panel(437.0, 202.3, 0.0, 1146.7, 1.083, tp_it, tp_if, tp_ib, bar_inset[7], (0.876, 0.9),
            [(LF, 1.03, 114.5), (LT, 1.03, 87.7), (LB, 1.03, 28.3)])
label(747, 1023, names[7], True); label(689, 1105, '3a'); label(590, 1195, '2a'); label(502, 1223, '1a')

# --- Vm ---
main_panel(17.3, 277.8, 1626.0, 8.58, 1.3, vm_sf, vm_sb, vm_df, vm_db, bar_main[8], (1.132, 0.78))
inset_panel(17.3, 203.3, 0.0, 1495.0, 1.033, vm_it, vm_if, vm_ib, bar_inset[8], (0.857, 4.8),
            [(LF, 0.972, 94.5), (LT, 1.026, 80.6), (LB, 1.038, 51.6)])
label(322, 1358, names[8], True); label(177, 1548, '2a'); label(75, 1569, '1a')

# --- Ro ---
main_panel(422.7, 284.2, 1627.3, 1.583, 1.3, ro_sf, ro_sb, ro_df, ro_db, bar_main[9], (1.114, 2.5))
inset_panel(421.0, 184.3, 0.0, 1474.0, 0.917, ro_it, ro_if, ro_ib, bar_inset[9], (0.837, 6.2),
            [(LF, 1.036, 130.9), (LT, 1.036, 98.9), (LB, 1.036, 57.1)])
label(747, 1360, names[9], True); label(687, 1423, '2a'); label(515, 1530, '1a')

fig.savefig('out.png', dpi=100)
